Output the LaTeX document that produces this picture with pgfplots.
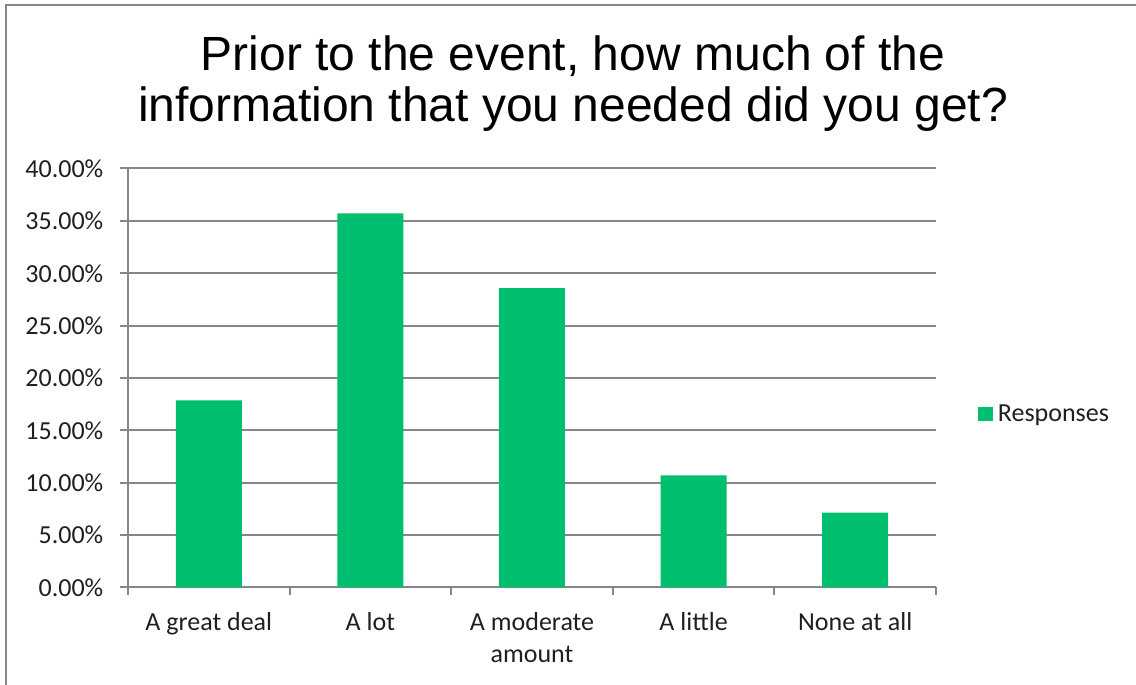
\documentclass[border=0pt]{standalone}
\usepackage{fontspec}
\setmainfont{Carlito}
\newfontfamily\arialfont{Liberation Sans}
\usepackage{pgfplots}
\pgfplotsset{compat=1.18}
\definecolor{barGreen}{HTML}{00BF6F}
\definecolor{axisGray}{HTML}{878787}
\begin{document}
\begin{tikzpicture}[x=0.75pt,y=0.75pt]
\path[use as bounding box] (0,0) rectangle (1136,685);
% chart frame (top and left edges)
\draw[axisGray, line width=1.5pt] (6,0) -- (6,680) -- (1136,680);
% title
\node[font=\arialfont\fontsize{36}{43}\selectfont, anchor=base, inner sep=0pt] at (573,614.3) {Prior to the event, how much of the};
\node[font=\arialfont\fontsize{36}{43}\selectfont, anchor=base, inner sep=0pt] at (573,563.3) {information that you needed did you get?};
\begin{axis}[
  at={(96pt,73.125pt)}, anchor=south west,
  scale only axis, width=606pt, height=314.25pt,
  xmin=-0.5, xmax=4.5, ymin=0, ymax=40,
  axis x line*=bottom, axis y line*=left,
  axis line style={-, axisGray, line width=1.5pt},
  ytick={0,5,...,40},
  ymajorgrids, grid style={axisGray, line width=1.5pt},
  yticklabel={\pgfmathprintnumber[fixed,fixed zerofill,precision=2]{\tick}\%},
  xtick={0,1,2,3,4},
  xticklabels={A great deal, A lot, {A moderate\\amount}, A little, None at all},
  minor xtick={-0.5,0.5,...,4.5},
  major x tick style={draw=none},
  tick style={axisGray, line width=1.5pt},
  major tick length=6pt, minor tick length=6pt,
  tick align=outside,
  ticklabel style={font=\fontsize{19.5}{24}\selectfont, text=black!88},
  xticklabel style={align=center, anchor=north, yshift=-9pt},
  yticklabel style={xshift=-9pt},
  /pgf/number format/assume math mode=true,
  ybar, bar width=49.5pt,
  legend style={draw=none, at={(axis description cs:1.052,0.414)}, anchor=west,
    font=\fontsize{19.5}{24}\selectfont, text=black!88, inner sep=0pt},
  legend image code/.code={\fill[barGreen] (0pt,-5.6pt) rectangle (11.25pt,5.6pt);},
]
\addplot[fill=barGreen, draw=none] coordinates {
  (0,17.86) (1,35.71) (2,28.57) (3,10.71) (4,7.14)
};
\addlegendentry{\hspace*{1.5pt}Responses}
\end{axis}
\end{tikzpicture}
\end{document}
